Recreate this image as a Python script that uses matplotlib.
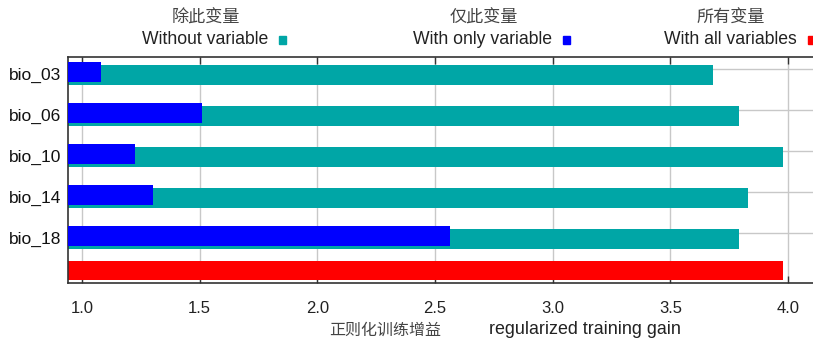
import matplotlib
matplotlib.use("Agg")
import matplotlib.pyplot as plt
import matplotlib.transforms as mtransforms

plt.rcParams['font.family'] = ['Liberation Sans', 'Noto Sans CJK SC', 'DejaVu Sans']

# jackknife of regularized training gain
variables = ['bio_03', 'bio_06', 'bio_10', 'bio_14', 'bio_18']
gain_without = [3.68, 3.79, 3.98, 3.83, 3.79]
gain_only = [1.08, 1.51, 1.225, 1.30, 2.565]
gain_all = 3.98
x_ticks = [1.0, 1.5, 2.0, 2.5, 3.0, 3.5, 4.0]

teal = '#00a6a6'
blue = '#0000ff'
red = '#ff0000'

x0, x1 = 0.94, 4.15
rows = list(range(len(variables)))
all_row = 4.77
bar_h = 0.49

fig = plt.figure(figsize=(8.13, 3.4), dpi=100)
ax = fig.add_axes([0.0835, 0.1676, 0.9292, 0.665])

ax.barh(rows, [v - x0 for v in gain_without], left=x0, height=bar_h,
        color=teal, zorder=2)
ax.barh([r - 0.085 for r in rows], [v - x0 for v in gain_only], left=x0,
        height=bar_h, color=blue, zorder=3)
ax.barh([all_row], [gain_all - x0], left=x0, height=0.47, color=red, zorder=2)

ax.set_xlim(x0, x1)
ax.set_ylim(5.07, -0.45)

ax.set_xticks(x_ticks)
ax.set_xticklabels([f'{t:.1f}' for t in x_ticks], fontsize=12, color='#222222')
ax.set_yticks([r - 0.16 for r in rows])
ax.set_yticklabels(variables, fontsize=12.5, color='#111111')
ax.tick_params(axis='x', direction='in', top=True, bottom=True, length=5,
               width=1, color='#333333', pad=13)
ax.tick_params(axis='y', direction='in', left=False, right=True, length=5,
               width=1, color='#333333', pad=5)
shift = mtransforms.ScaledTranslation(0, -5 / 100, fig.dpi_scale_trans)
for lab in ax.get_yticklabels():
    lab.set_transform(lab.get_transform() + shift)

ax.grid(True, color='#c8c8c8', linewidth=1, zorder=0)
ax.set_axisbelow(True)
for s in ax.spines.values():
    s.set_color('#333333')
    s.set_linewidth(1.2)

# header: Chinese over English, with a colour key after each
head_y_cn, head_y_en = 1 - 18 / 340, 1 - 40 / 340
headers = [
    ('除此变量', 'Without variable', 206 / 813, 268 / 813, teal),
    ('仅此变量', 'With only variable', 484 / 813, 552 / 813, blue),
    ('所有变量', 'With all variables', 731 / 813, 797 / 813, red),
]
for cn, en, xc, xe, col in headers:
    fig.text(xc, head_y_cn, cn, ha='center', va='center', fontsize=12.3,
             color='#444444', family=['Noto Sans CJK SC'])
    fig.text(xe, head_y_en, en, ha='right', va='center', fontsize=12.7,
             color='#222222')
    fig.patches.append(plt.Rectangle((xe + 11 / 813, head_y_en - 4 / 340),
                                     7 / 813, 8 / 340, color=col,
                                     transform=fig.transFigure, figure=fig))

fig.text(385 / 813, 1 - 330 / 340, '正则化训练增益', ha='center', va='center',
         fontsize=11.5, color='#444444', family=['Noto Sans CJK SC'])
fig.text(585 / 813, 1 - 329 / 340, 'regularized training gain', ha='center',
         va='center', fontsize=12.9, color='#222222')

fig.savefig('out.png', dpi=100)
